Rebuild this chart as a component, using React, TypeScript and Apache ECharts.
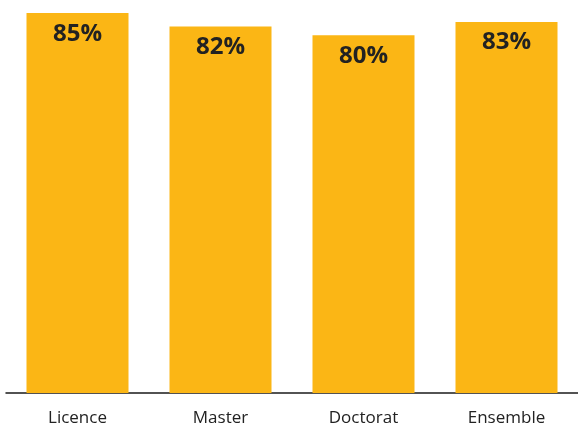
import React, { useEffect, useRef } from "react";
import * as echarts from "echarts";

const categories = ["Licence", "Master", "Doctorat", "Ensemble"];
const values = [85, 82, 80, 83];

export default function App() {
  const ref = useRef<HTMLDivElement>(null);

  useEffect(() => {
    if (!ref.current) return;
    const chart = echarts.init(ref.current, undefined, { renderer: "svg" });
    chart.setOption({
      animation: false,
      grid: { left: 6, right: -3, top: 13, bottom: 37 },
      xAxis: {
        type: "category",
        data: categories,
        axisLine: { lineStyle: { color: "#1a1a1a", width: 1.5 } },
        axisTick: { show: false },
        axisLabel: {
          color: "#222",
          fontFamily: "Open Sans",
          fontSize: 17,
          margin: 15,
        },
      },
      yAxis: {
        type: "value",
        min: 0,
        max: 85,
        show: false,
        splitLine: { show: false },
      },
      series: [
        {
          type: "bar",
          data: values,
          barWidth: 102,
          itemStyle: { color: "#FBB615" },
          label: {
            show: true,
            position: "insideTop",
            distance: 6,
            formatter: "{c}%",
            color: "#222",
            fontFamily: "Open Sans",
            fontWeight: "bold",
            fontSize: 24,
          },
        },
      ],
    });
    return () => chart.dispose();
  }, []);

  return (
    <div
      ref={ref}
      style={{ position: "fixed", left: 0, top: 0, width: 578, height: 430 }}
    />
  );
}
